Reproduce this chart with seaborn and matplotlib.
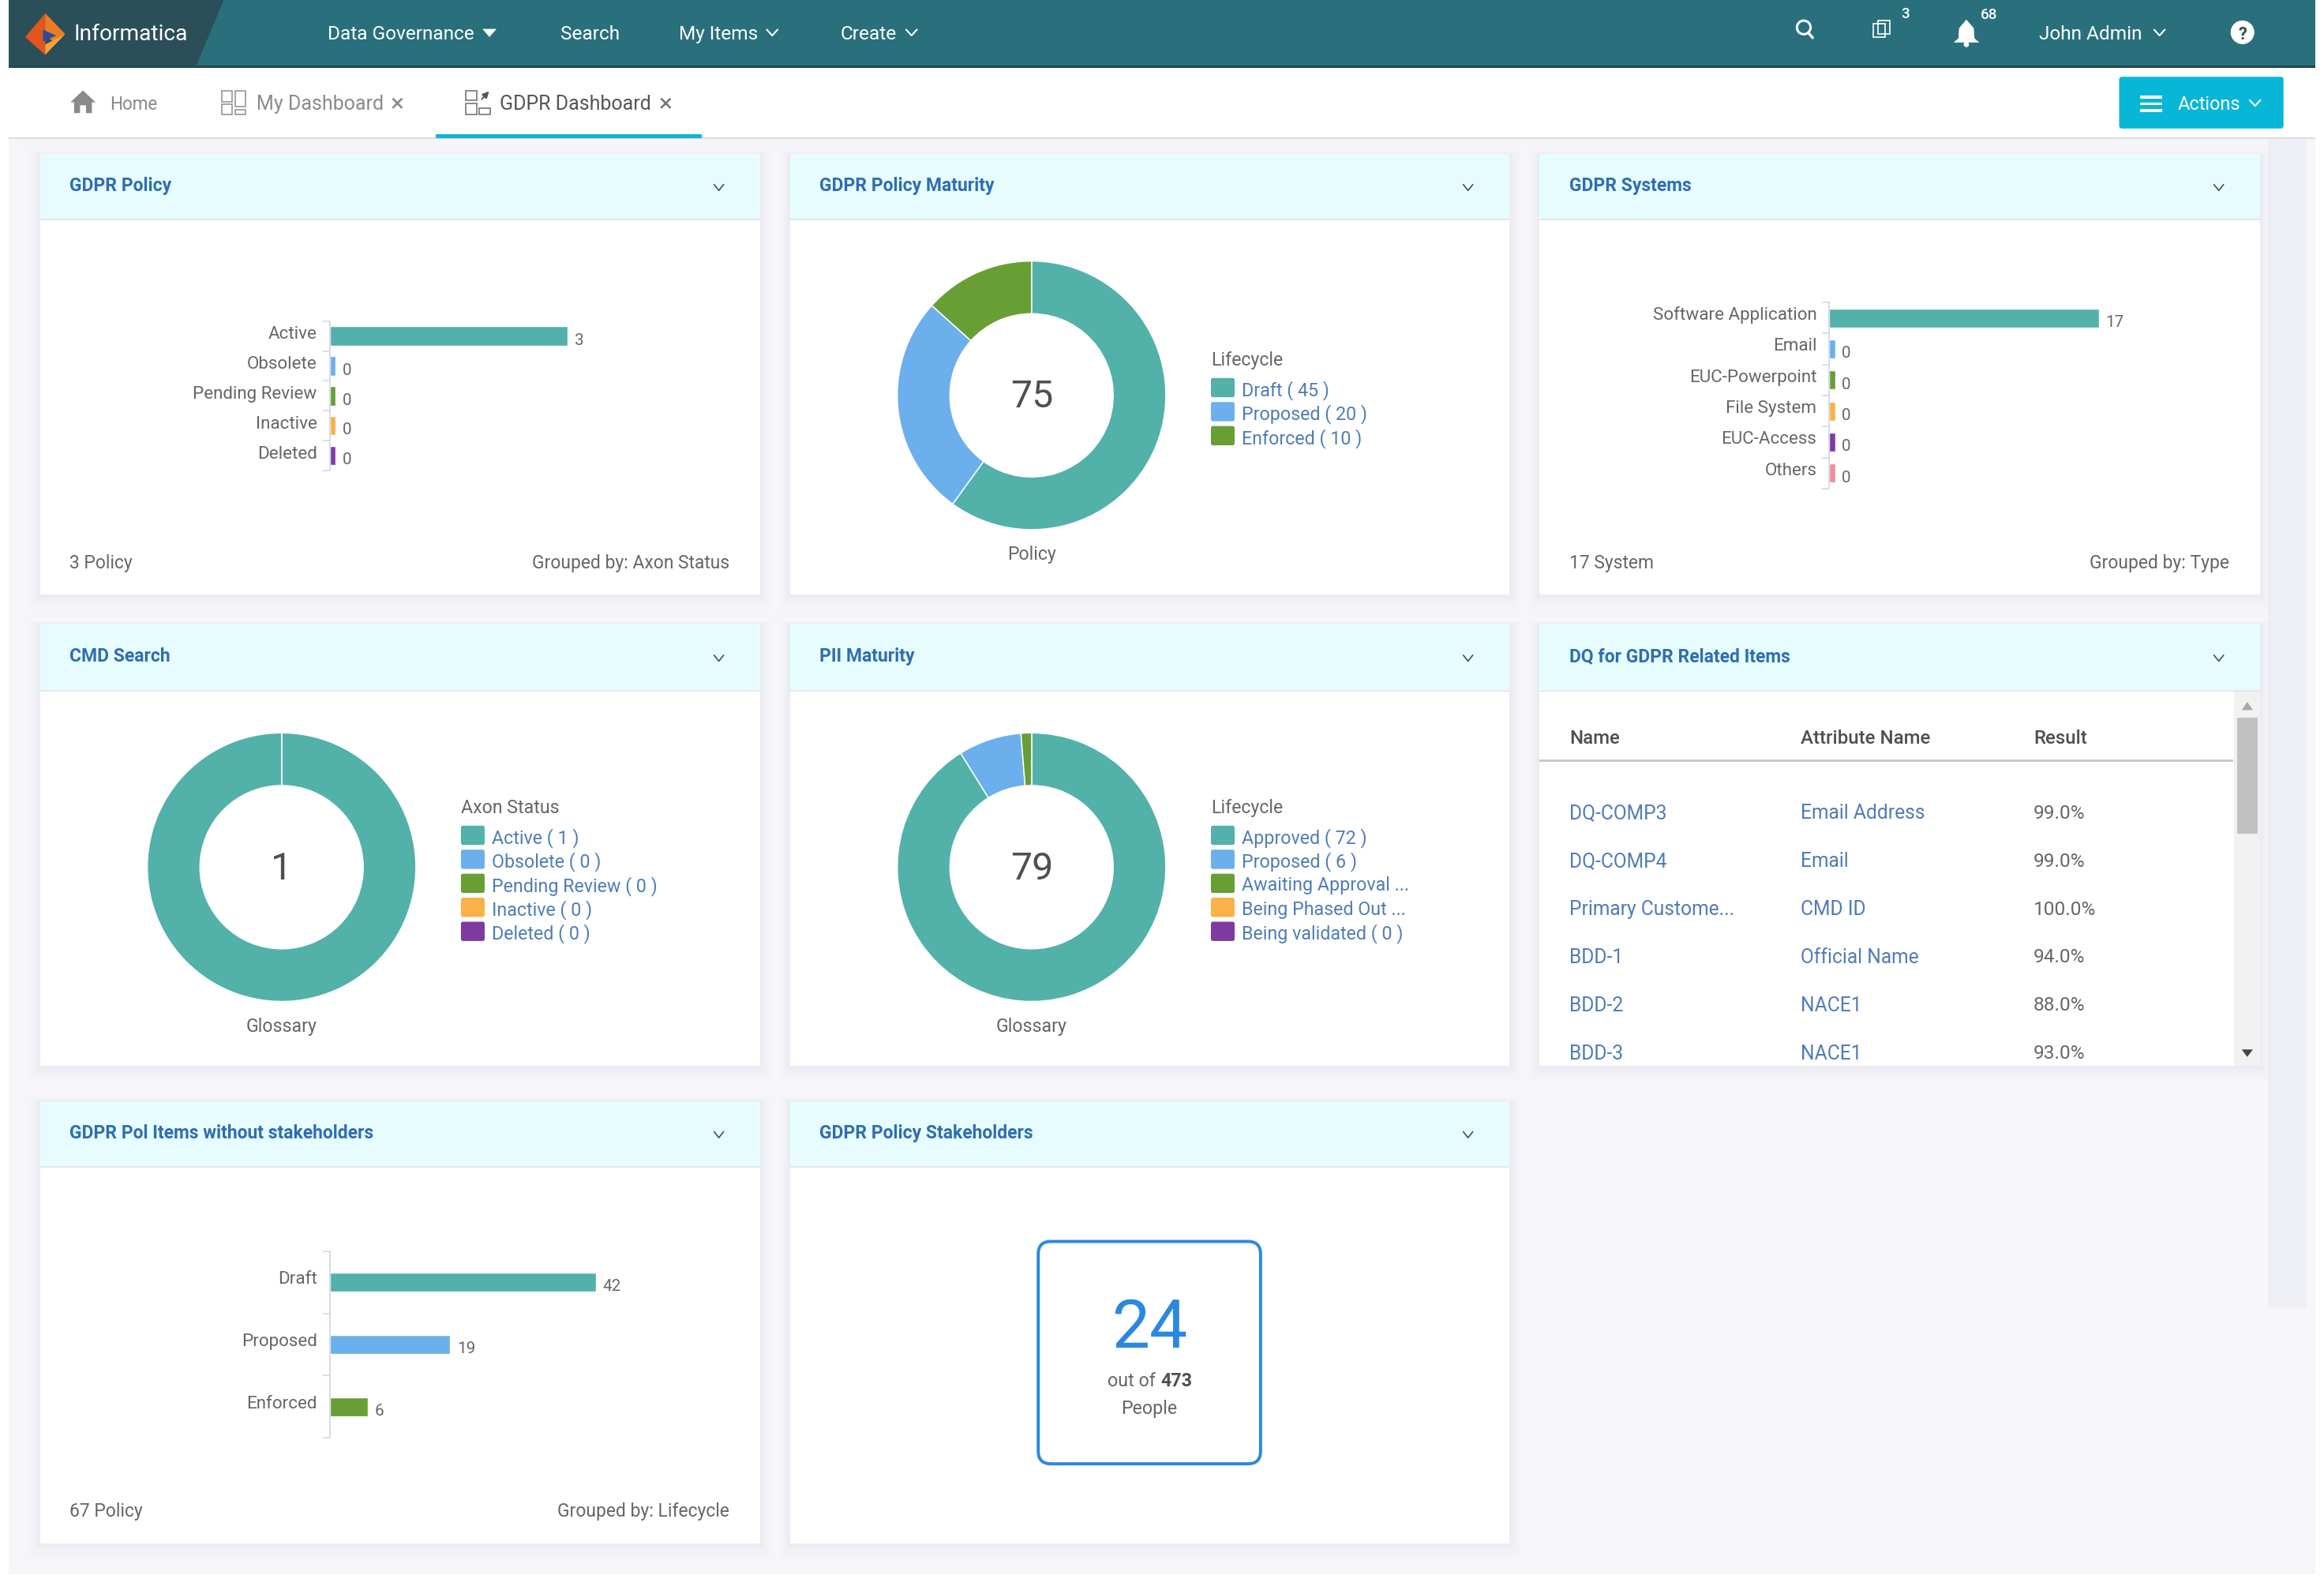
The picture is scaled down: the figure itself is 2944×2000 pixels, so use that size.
"""
GDPR dashboard recreation: seaborn bars, matplotlib donuts and page chrome.
Layout numbers are in a 1568 wide page grid, scaled to the 2944x2000 output.
"""

import numpy as np
import pandas as pd
import matplotlib.pyplot as plt
import seaborn as sns
from matplotlib.patches import Rectangle, Polygon, FancyBboxPatch, Circle
from matplotlib.transforms import ScaledTranslation

# Chart data
policy_cats = ["Active", "Obsolete", "Pending Review", "Inactive", "Deleted"]
policy_vals = [3, 0, 0, 0, 0]

systems_cats = ["Software Application", "Email", "EUC-Powerpoint", "File System", "EUC-Access", "Others"]
systems_vals = [17, 0, 0, 0, 0, 0]

stakeholder_cats = ["Draft", "Proposed", "Enforced"]
stakeholder_vals = [42, 19, 6]

maturity_cats = ["Draft", "Proposed", "Enforced"]
maturity_vals = [45, 20, 10]

cmd_cats = ["Active", "Obsolete", "Pending Review", "Inactive", "Deleted"]
cmd_vals = [1, 0, 0, 0, 0]

pii_cats = ["Approved", "Proposed", "Awaiting Approval", "Being Phased Out", "Being validated"]
pii_vals = [72, 6, 1, 0, 0]
pii_legend = ["Approved ( 72 )", "Proposed ( 6 )", "Awaiting Approval ...", "Being Phased Out ...", "Being validated ( 0 )"]

dq_names = ["DQ-COMP3", "DQ-COMP4", "Primary Custome...", "BDD-1", "BDD-2", "BDD-3"]
dq_attrs = ["Email Address", "Email", "CMD ID", "Official Name", "NACE1", "NACE1"]
dq_results = ["99.0%", "99.0%", "100.0%", "94.0%", "88.0%", "93.0%"]

people_count = 24
people_total = 473

# Colours
TEAL = "#52b1a9"
BLUE = "#6bafec"
GREEN = "#679f35"
ORANGE = "#fab14a"
PURPLE = "#7d3aa0"
PINK = "#f28b9b"
series_colors = [TEAL, BLUE, GREEN, ORANGE, PURPLE, PINK]

NAV = "#29707c"
NAV_DARK = "#2b4f58"
HEADER = "#e6fcfe"
TITLE = "#2f6db0"
LINK = "#4f7db5"
TEXT = "#666666"
DARK = "#4f4f4f"
PAGE = "#f5f5fa"
AXIS = "#ccd6eb"
CYAN = "#08b7d7"

W, H = 1568.0, 2000 / (2944 / 1568)
PT = 2944 / 1568 * 72 / 100  # one page unit in points

sns.set_theme(style="white")
plt.rcParams["font.family"] = ["Roboto", "DejaVu Sans"]

fig = plt.figure(figsize=(29.44, 20), dpi=100, facecolor="white")
page = fig.add_axes([0, 0, 1, 1])
page.set_xlim(0, W)
page.set_ylim(H, 0)
page.axis("off")


def rect(x0, y0, x1, y1, color, **kw):
    page.add_patch(Rectangle((x0, y0), x1 - x0, y1 - y0, facecolor=color, edgecolor="none", **kw))


def label(x, y, s, size=12.5, color=TEXT, ha="left", weight="normal"):
    page.text(x, y, s, fontsize=size * PT, color=color, ha=ha, va="center_baseline", fontweight=weight)


def chevron(x, y, color="white", half=3.6, lw=1.1):
    page.plot([x - half, x, x + half], [y - 2, y + 2, y - 2], color=color, lw=lw * PT, solid_capstyle="round")


def inset(l, t, r, b):
    ax = fig.add_axes([l / W, 1 - b / H, (r - l) / W, (b - t) / H])
    ax.patch.set_visible(False)
    return ax


def card(x0, y0, x1, y1, head_bottom, title):
    # soft shadow
    for pad, alpha in [(7, 0.006), (5, 0.008), (3, 0.01), (1.5, 0.012)]:
        rect(x0 - pad, y0 - pad * 0.3, x1 + pad, y1 + pad * 1.4, "#30305a", alpha=alpha)
    rect(x0, y0, x1, y1, "white")
    rect(x0, y0, x1, head_bottom, HEADER)
    rect(x0, head_bottom - 0.6, x1, head_bottom + 0.6, "#e2e8ea")
    label(x0 + 20, (y0 + head_bottom) / 2 - 2, title, size=12.2, color=TITLE, weight="bold")
    chevron(x1 - 28, (y0 + head_bottom) / 2 + 0.5, color=DARK, half=3.2, lw=0.9)


def bar_panel(left, right, top, bottom, cats, vals, bar_h, lift):
    df = pd.DataFrame({"cat": cats, "shown": np.maximum(vals, max(vals) * 4 / (right - left))})
    ax = inset(left, top, right, bottom)
    palette = dict(zip(cats, series_colors))
    band = (bottom - top) / len(cats)
    sns.barplot(data=df, x="shown", y="cat", hue="cat", palette=palette, order=cats, hue_order=cats,
                width=bar_h / band, saturation=1, legend=False, ax=ax, orient="h", errorbar=None)
    ax.set_xlim(0, max(vals))
    ax.set_ylim(len(cats) - 0.5, -0.5)
    ax.xaxis.set_visible(False)
    ax.set_ylabel("")
    for side in ["top", "right", "bottom"]:
        ax.spines[side].set_visible(False)
    ax.spines["left"].set_color(AXIS)
    ax.spines["left"].set_linewidth(0.9 * PT)
    ax.set_yticks(np.arange(len(cats) + 1) - 0.5, minor=True)
    ax.tick_params(axis="y", which="minor", left=True, length=5 * PT, width=0.8 * PT, color=AXIS)
    ax.tick_params(axis="y", which="major", left=True, length=0, pad=8.5 * PT, labelsize=11.9 * PT, labelcolor=TEXT)
    shift = ScaledTranslation(0, lift * PT / 72, fig.dpi_scale_trans)
    for tick in ax.get_yticklabels():
        tick.set_transform(tick.get_transform() + shift)
    for i, v in enumerate(vals):
        ax.annotate(str(v), (df["shown"][i], i), xytext=(4.5 * PT, -3.1 * PT), textcoords="offset points",
                    fontsize=11 * PT, color=TEXT, va="center", annotation_clip=False)


def donut(cx, cy, vals, total_text, caption, legend_x, legend_y, legend_title, legend_items):
    r = 90.6
    ax = inset(cx - r, cy - r, cx + r, cy + r)
    ax.pie(vals, colors=series_colors, startangle=90, counterclock=False, radius=1,
           wedgeprops={"width": 0.392, "edgecolor": "white", "linewidth": 0.8 * PT})
    ax.set_xlim(-1, 1)
    ax.set_ylim(-1, 1)
    ax.text(0, -0.015, total_text, fontsize=25.7 * PT, color=DARK, ha="center", va="center")
    label(cx, cy + 106.2, caption, size=12.3, ha="center")
    label(legend_x, legend_y, legend_title, size=12.3)
    for i, item in enumerate(legend_items):
        y = legend_y + 19.4 + i * 16.2
        page.add_patch(FancyBboxPatch((legend_x + 0.8, y - 5.6), 14.4, 11.4, boxstyle="round,pad=0.8,rounding_size=1.4",
                                      facecolor=series_colors[i], edgecolor="none"))
        label(legend_x + 21, y + 0.4, item, size=12.4, color=LINK)


# Page background
rect(6, 45, 1562, 1062, PAGE)
rect(1530, 93, 1556, 882, "#eeeff4")
rect(6, 45.5, 1562, 93, "white")
rect(6, 92.6, 1562, 93.8, "#dcdcdc")

# Top navigation
rect(6, 0, 1562, 44.5, NAV)
rect(6, 44.2, 1562, 45.6, "#1f4a52")
page.add_patch(Polygon([(6, 0), (151, 0), (132.5, 44.2), (6, 44.2)], facecolor=NAV_DARK, edgecolor="none"))
page.add_patch(Polygon([(30.5, 9), (17, 25), (30.5, 37)], facecolor="#e2551e", edgecolor="none"))
page.add_patch(Polygon([(30.5, 9), (44, 23), (36, 28), (30.5, 24)], facecolor="#ee7d22", edgecolor="none"))
page.add_patch(Polygon([(30.5, 37), (44, 23), (30.5, 30)], facecolor="#f5a13c", edgecolor="none"))
page.add_patch(Polygon([(29, 20), (38, 24), (29, 28)], facecolor="#2f4a9b", edgecolor="none"))
label(50, 21.5, "Informatica", size=15, color="white")
label(221, 22, "Data Governance", size=13, color="white")
page.add_patch(Polygon([(325.5, 19.5), (335, 19.5), (330.2, 25)], facecolor="white", edgecolor="none"))
label(378, 22, "Search", size=13, color="white")
label(458, 22, "My Items", size=13, color="white")
chevron(521, 22)
label(567, 22, "Create", size=13, color="white")
chevron(615, 22)

# Right side of the navigation
page.add_patch(Circle((1217, 18.5), 4.6, facecolor="none", edgecolor="white", lw=1.6 * PT))
page.plot([1220, 1223], [22, 25.5], color="white", lw=1.8 * PT)
page.add_patch(Rectangle((1264, 16), 8, 9, facecolor="none", edgecolor="white", lw=0.9 * PT))
page.add_patch(Rectangle((1267, 14), 8, 9, facecolor="none", edgecolor="white", lw=0.9 * PT))
label(1285.5, 8.5, "3", size=10, color="white", ha="center", weight="medium")
page.add_patch(Polygon([(1326.7, 13.5), (1322, 19), (1321.5, 26), (1318.5, 28.5), (1335, 28.5), (1332, 26),
                        (1331.5, 19)], facecolor="white", edgecolor="white", lw=0.5))
page.add_patch(Circle((1326.7, 30), 1.8, facecolor="white", edgecolor="none"))
label(1342, 9, "68", size=10, color="white", ha="center", weight="medium")
label(1375.5, 22, "John Admin", size=13, color="white")
chevron(1457, 22)
page.add_patch(Circle((1513, 21.8), 8, facecolor="white", edgecolor="none"))
label(1513, 22, "?", size=11.5, color=NAV_DARK, ha="center", weight="bold")

# Tab bar
page.add_patch(Polygon([(56, 61), (47.5, 69), (50, 69), (50, 76.3), (54, 76.3), (54, 71), (58, 71), (58, 76.3),
                        (62, 76.3), (62, 69), (64.5, 69)], facecolor="#8a8a8a", edgecolor="none"))
label(74, 69.5, "Home", size=12, color="#8a8a8a")
for bx, by, bw, bh in [(149.5, 61, 7, 7.5), (158.5, 61, 7, 11), (149.5, 70.5, 7, 6.5), (158.5, 74, 7, 3)]:
    page.add_patch(Rectangle((bx, by), bw, bh, facecolor="none", edgecolor="#8a8a8a", lw=0.8 * PT))
label(173, 69, "My Dashboard", size=13.3, color="#8a8a8a")
label(268, 69, "\u00d7", size=17, color="#8a8a8a", ha="center")
for bx, by, bw, bh in [(314.5, 61, 7, 6.5), (314.5, 70, 7, 7), (323.5, 73, 7, 4)]:
    page.add_patch(Rectangle((bx, by), bw, bh, facecolor="none", edgecolor="#666666", lw=0.8 * PT))
page.annotate("", xy=(331, 60.5), xytext=(324, 68), arrowprops={"arrowstyle": "-|>", "color": "#555555", "lw": 1.0 * PT})
label(337, 69, "GDPR Dashboard", size=13.3, color="#555555")
label(449, 69, "\u00d7", size=17, color="#777777", ha="center")
rect(294, 90.4, 473.5, 93.2, "#12b4d6")

page.add_patch(FancyBboxPatch((1431, 53), 108.5, 32.5, boxstyle="round,pad=1.2,rounding_size=2",
                              facecolor=CYAN, edgecolor="none"))
for y in [65.5, 70, 74.5]:
    rect(1444, y - 1, 1459, y + 1, "white")
label(1469.5, 69.5, "Actions", size=12.5, color="white")
chevron(1521.5, 69.5)

# Cards
col_x = [(27, 513), (533, 1018.5), (1038.6, 1525)]
card(col_x[0][0], 104, col_x[0][1], 401, 148, "GDPR Policy")
card(col_x[1][0], 104, col_x[1][1], 401, 148, "GDPR Policy Maturity")
card(col_x[2][0], 104, col_x[2][1], 401, 148, "GDPR Systems")
card(col_x[0][0], 421, col_x[0][1], 719, 466, "CMD Search")
card(col_x[1][0], 421, col_x[1][1], 719, 466, "PII Maturity")
card(col_x[2][0], 421, col_x[2][1], 719, 466, "DQ for GDPR Related Items")
card(col_x[0][0], 743, col_x[0][1], 1041, 787, "GDPR Pol Items without stakeholders")
card(col_x[1][0], 743, col_x[1][1], 1041, 787, "GDPR Policy Stakeholders")

# Bar panels
bar_panel(222.4, 383, 216.6, 317.4, policy_cats, policy_vals, 13, 2.2)
bar_panel(1234.2, 1416, 204, 329.7, systems_cats, systems_vals, 12.8, 3.1)
bar_panel(222.6, 402, 844, 970, stakeholder_cats, stakeholder_vals, 13, 3)

label(47, 378.7, "%d Policy" % sum(policy_vals), size=12.2)
label(492, 378.7, "Grouped by: Axon Status", size=12.2, ha="right")
label(1059, 378.7, "%d System" % sum(systems_vals), size=12.2)
label(1504, 378.7, "Grouped by: Type", size=12.2, ha="right")
label(47, 1018.2, "%d Policy" % sum(stakeholder_vals), size=12.2)
label(492, 1018.2, "Grouped by: Lifecycle", size=12.2, ha="right")

# Donuts
donut(696, 266.7, maturity_vals, str(sum(maturity_vals)), "Policy", 817, 242, "Lifecycle",
      ["%s ( %d )" % (c, v) for c, v in zip(maturity_cats, maturity_vals)])
donut(190, 585, cmd_vals, str(sum(cmd_vals)), "Glossary", 311, 544, "Axon Status",
      ["%s ( %d )" % (c, v) for c, v in zip(cmd_cats, cmd_vals)])
donut(696, 585, pii_vals, str(sum(pii_vals)), "Glossary", 817, 544, "Lifecycle", pii_legend)

# DQ table
table_x = [1059, 1215, 1372]
for x, name in zip(table_x, ["Name", "Attribute Name", "Result"]):
    label(x, 496.7, name, size=12.8, color=DARK, weight="medium")
rect(1038.6, 512.6, 1507, 514, "#c9c9c9")
row_y = np.linspace(547.5, 709.5, len(dq_names))
for y, name, attr, res in zip(row_y, dq_names, dq_attrs, dq_results):
    label(table_x[0], y, name, size=13.1, color=LINK)
    label(table_x[1], y, attr, size=13.1, color=LINK)
    label(table_x[2], y, res, size=13, color=TEXT)

# Scrollbar
rect(1507.5, 466.5, 1525, 719, "#f1f1f1")
rect(1509.5, 484, 1523, 562.5, "#c1c1c1")
page.add_patch(Polygon([(1512.5, 479), (1520, 479), (1516.2, 473.5)], facecolor="#a8a8a8", edgecolor="none"))
page.add_patch(Polygon([(1512.5, 708), (1520, 708), (1516.2, 713)], facecolor="#444444", edgecolor="none"))

# Stakeholders tile
page.add_patch(FancyBboxPatch((709, 846), 133, 133, boxstyle="round,pad=8.5,rounding_size=8.5",
                              facecolor="white", edgecolor="#2b88e0", lw=2.1 * PT))
label(775.5, 892.3, str(people_count), size=45.7, color="#2b88e0", ha="center")
label(779.6, 930.7, "out of", size=12.4, ha="right")
label(783, 930.7, str(people_total), size=12.4, color=DARK, weight="bold")
label(775.5, 949, "People", size=12.4, ha="center")

fig.savefig("out.png", dpi=100, facecolor="white")
plt.close(fig)
